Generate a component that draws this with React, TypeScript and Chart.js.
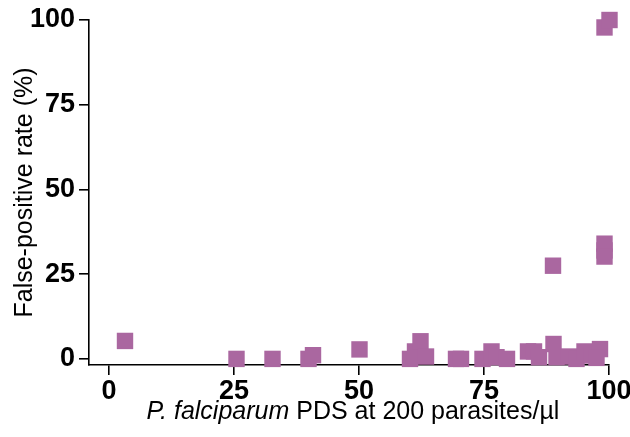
import React, { useEffect, useRef } from "react";
import { Chart, registerables } from "chart.js";

Chart.register(...registerables);

// PDS (%) at 200 parasites/µl
const pdsValues: number[] = [
  3.2, 25.5, 32.7, 39.9, 40.8, 50.1, 60.2, 61.2, 62.3, 63.4, 69.4, 70.4,
  74.7, 76.5, 77.5, 79.6, 83.8, 85.0, 86.0, 88.9, 88.8, 89.5, 92.0, 93.5,
  95.1, 96.5, 98.2, 97.5, 99.1, 100.1, 99.1, 99.1, 99.1,
];
// False-positive rate (%)
const fprValues: number[] = [
  5.3, 0, 0, 0, 1.1, 2.8, 0, 2.2, 5.2, 0.7, 0, 0,
  0, 2.2, 0.5, 0, 2.2, 2.2, 0.5, 4.4, 27.5, 0.5, 0.7, 0,
  2.2, 1.0, 2.9, 0.3, 97.8, 100, 34, 32, 30.2,
];
const xTicks: number[] = [0, 25, 50, 75, 100];
const yTicks: number[] = [0, 25, 50, 75, 100];
const xTitleItalic = "P. falciparum";
const xTitleRest = " PDS at 200 parasites/\u00b5l";
const yTitle = "False-positive rate (%)";

const FONT = '"Liberation Sans", Arial, Helvetica, sans-serif';
const MARK = "#aa67a0";

export default function App() {
  const ref = useRef<HTMLCanvasElement | null>(null);
  useEffect(() => {
    if (!ref.current) return;
    const points = pdsValues.map((x, i) => ({ x, y: fprValues[i] }));
    const xTitlePlugin = {
      id: "xTitle",
      afterDraw(chart: any) {
        const { ctx, chartArea } = chart;
        ctx.save();
        ctx.fillStyle = "#000";
        ctx.textBaseline = "alphabetic";
        ctx.textAlign = "left";
        ctx.font = `italic 25px ${FONT}`;
        const w1 = ctx.measureText(xTitleItalic).width;
        ctx.font = `25px ${FONT}`;
        const w2 = ctx.measureText(xTitleRest).width;
        const cx = (chartArea.left + chartArea.right) / 2 + 4;
        const start = cx - (w1 + w2) / 2;
        const y = 419;
        ctx.font = `italic 25px ${FONT}`;
        ctx.fillText(xTitleItalic, start, y);
        ctx.font = `25px ${FONT}`;
        ctx.fillText(xTitleRest, start + w1, y);
        ctx.restore();
      },
    };
    const chart = new Chart(ref.current, {
      type: "scatter",
      data: {
        datasets: [
          {
            data: points,
            pointStyle: "rect",
            pointRadius: 11.6,
            pointHoverRadius: 11.6,
            backgroundColor: MARK,
            borderWidth: 0,
            clip: false as any,
          },
        ],
      },
      options: {
        animation: false,
        responsive: false,
        maintainAspectRatio: false,
        layout: { padding: { top: 20, right: 21, left: 0, bottom: 0 } },
        plugins: { legend: { display: false }, tooltip: { enabled: false } },
        scales: {
          x: {
            type: "linear",
            min: -4,
            max: 100,
            afterBuildTicks: (s: any) => {
              s.ticks = xTicks.map((v) => ({ value: v }));
            },
            afterFit: (s: any) => {
              s.height = 72;
              s.paddingLeft = 0;
              s.paddingRight = 0;
            },
            grid: {
              drawOnChartArea: false,
              drawTicks: true,
              tickLength: 10,
              tickColor: "#000",
              lineWidth: 1.6,
            },
            border: { display: true, color: "#000", width: 1.6 },
            ticks: {
              color: "#000",
              padding: 0,
              maxRotation: 0,
              font: { family: FONT, size: 27, weight: "bold" },
            },
          },
          y: {
            type: "linear",
            min: -1.8,
            max: 100,
            afterBuildTicks: (s: any) => {
              s.ticks = yTicks.map((v) => ({ value: v }));
            },
            afterFit: (s: any) => {
              s.width = 89;
              s.paddingTop = 0;
              s.paddingBottom = 0;
            },
            grid: {
              drawOnChartArea: false,
              drawTicks: true,
              tickLength: 10,
              tickColor: "#000",
              lineWidth: 1.6,
            },
            border: { display: true, color: "#000", width: 1.6 },
            ticks: {
              color: "#000",
              padding: 4,
              font: { family: FONT, size: 27, weight: "bold" },
            },
            title: {
              display: true,
              text: yTitle,
              color: "#000",
              padding: { top: 10, bottom: 0 },
              font: { family: FONT, size: 25, weight: "normal" },
            },
          },
        },
      },
      plugins: [xTitlePlugin],
    });
    return () => chart.destroy();
  }, []);
  return (
    <div style={{ position: "fixed", left: 0, top: 0, width: 630, height: 437, background: "#fff" }}>
      <canvas ref={ref} width={630} height={437} style={{ width: 630, height: 437 }} />
    </div>
  );
}
